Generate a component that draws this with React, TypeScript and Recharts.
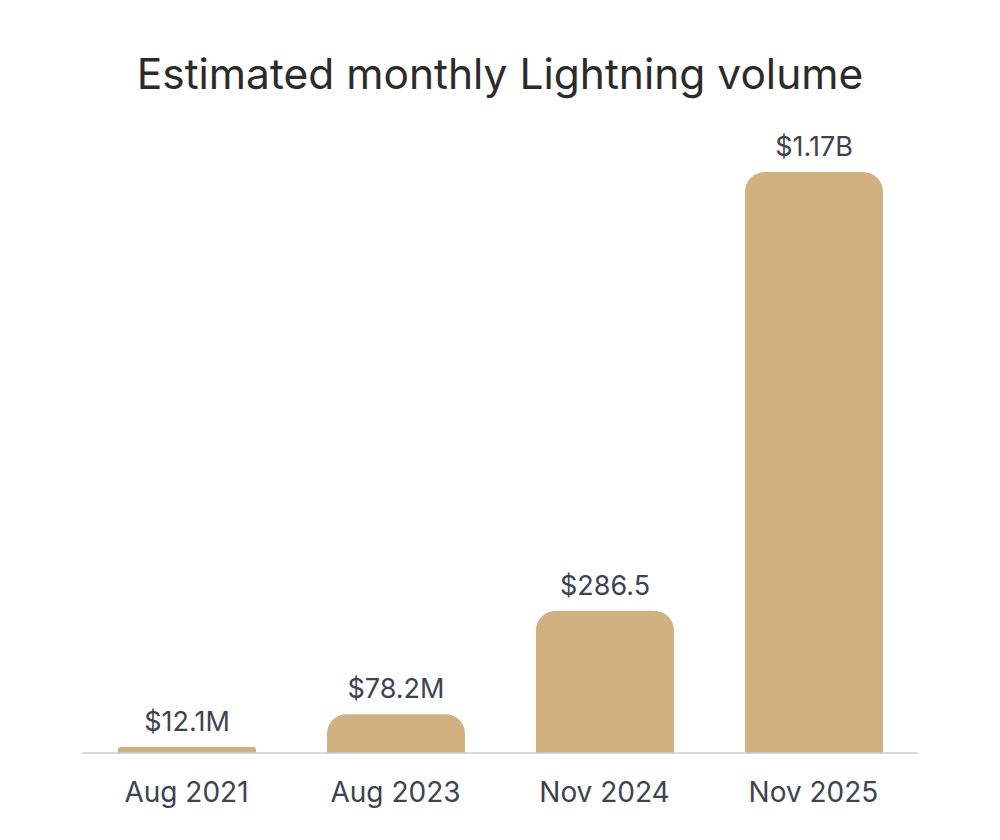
import { Bar, BarChart, LabelList, XAxis, YAxis } from "recharts";

const periods = ["Aug 2021", "Aug 2023", "Nov 2024", "Nov 2025"];
const volumeMillions = [12.1, 78.2, 286.5, 1170];
const valueLabels = ["$12.1M", "$78.2M", "$286.5", "$1.17B"];

const data = periods.map((period, i) => ({
  period,
  volume: volumeMillions[i],
  label: valueLabels[i],
}));

const font = "Inter, 'Noto Sans', sans-serif";

export default function App() {
  return (
    <div
      style={{
        position: "absolute",
        top: 0,
        left: 0,
        width: 1000,
        height: 840,
        background: "#ffffff",
        fontFamily: font,
      }}
    >
      <div
        style={{
          position: "absolute",
          top: 48,
          left: 0,
          width: 1000,
          textAlign: "center",
          fontSize: 42.5,
          fontWeight: 400,
          color: "#2b2b2b",
        }}
      >
        Estimated monthly Lightning volume
      </div>
      <div style={{ position: "absolute", top: 0, left: 0 }}>
        <BarChart
          width={1000}
          height={840}
          data={data}
          margin={{ top: 172, right: 82, bottom: 0, left: 82 }}
        >
          <XAxis
            dataKey="period"
            height={87}
            axisLine={{ stroke: "#c9cbd0", strokeWidth: 1.5 }}
            tickLine={false}
            tick={{ fontSize: 28, fill: "#3d4350", fontFamily: font }}
            tickMargin={23}
          />
          <YAxis hide domain={[0, 1170]} />
          <Bar
            dataKey="volume"
            fill="#cfb27f"
            barSize={138}
            radius={[20, 20, 0, 0]}
            isAnimationActive={false}
          >
            <LabelList
              dataKey="label"
              position="top"
              offset={16}
              style={{ fontSize: 27, fill: "#3d4350", fontFamily: font }}
            />
          </Bar>
        </BarChart>
      </div>
    </div>
  );
}
